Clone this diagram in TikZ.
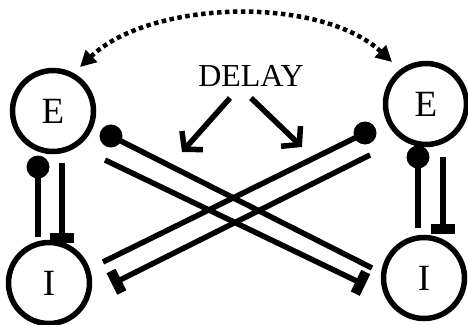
\documentclass[tikz,border=0pt]{standalone}
\usepackage{fontspec}
\setmainfont{Liberation Serif}
\usetikzlibrary{arrows.meta}
\begin{document}
\begin{tikzpicture}[x=1pt,y=-1pt,
  unit/.style={circle,draw,line width=5.5pt,minimum size=81pt,inner sep=0pt,
    font=\fontsize{37}{37}\selectfont},
  syn/.style={line width=5.5pt},
  dotnode/.style={circle,fill,minimum size=23pt,inner sep=0pt},
  excite/.style={syn,-{Rectangle[length=10pt,width=24pt]}},
  delayarrow/.style={line width=5.5pt,-{Straight Barb[length=12pt,width=28pt]}},
  link/.style={line width=4.5pt,dash pattern=on 4.5pt off 3.5pt,
    {Triangle[length=16pt,width=16pt]}-{Triangle[length=16pt,width=16pt]}}
]
\useasboundingbox (0,0) rectangle (468,324);

% the four populations
\node[unit] (E1) at (53,111) {E};
\node[unit] (I1) at (49,283) {I};
\node[unit] (E2) at (426,104) {E};
\node[unit] (I2) at (424,278) {I};

% delay label and its arrows
\node[font=\fontsize{32}{32}\selectfont] (delay) at (251,76) {DELAY};
\coordinate (dla) at (230,98);
\coordinate (dlb) at (182,152);
\coordinate (dra) at (251,98);
\coordinate (drb) at (302,147);
\draw[delayarrow] (dla) -- (dlb);
\draw[delayarrow] (dra) -- (drb);

% dotted coupling between the two E units
\coordinate (c1) at (80,67);
\coordinate (c2) at (392,62);
\draw[link] (c1) .. controls (150,0) and (320,-5) .. (c2);

% local loop, left pair
\node[dotnode] (dL) at (38,167) {};
\coordinate (dLend) at (38,237);
\draw[syn] (dL.center) -- (dLend);
\coordinate (bLa) at (62,163);
\coordinate (bLb) at (62,243);
\draw[excite] (bLa) -- (bLb);

% local loop, right pair
\node[dotnode] (dR) at (418,157) {};
\coordinate (dRend) at (418,228);
\draw[syn] (dR.center) -- (dRend);
\coordinate (bRa) at (443,157);
\coordinate (bRb) at (443,234);
\draw[excite] (bRa) -- (bRb);

% crossed long-range connections
\node[dotnode] (x1) at (111,136) {};
\coordinate (x1end) at (372,268);
\draw[syn] (x1.center) -- (x1end);
\coordinate (y1a) at (105,160);
\coordinate (y1b) at (365,285);
\draw[excite] (y1a) -- (y1b);

\node[dotnode] (x2) at (365,133) {};
\coordinate (x2end) at (103,262);
\draw[syn] (x2.center) -- (x2end);
\coordinate (y2a) at (370,155);
\coordinate (y2b) at (112,284);
\draw[excite] (y2a) -- (y2b);
\end{tikzpicture}
\end{document}
